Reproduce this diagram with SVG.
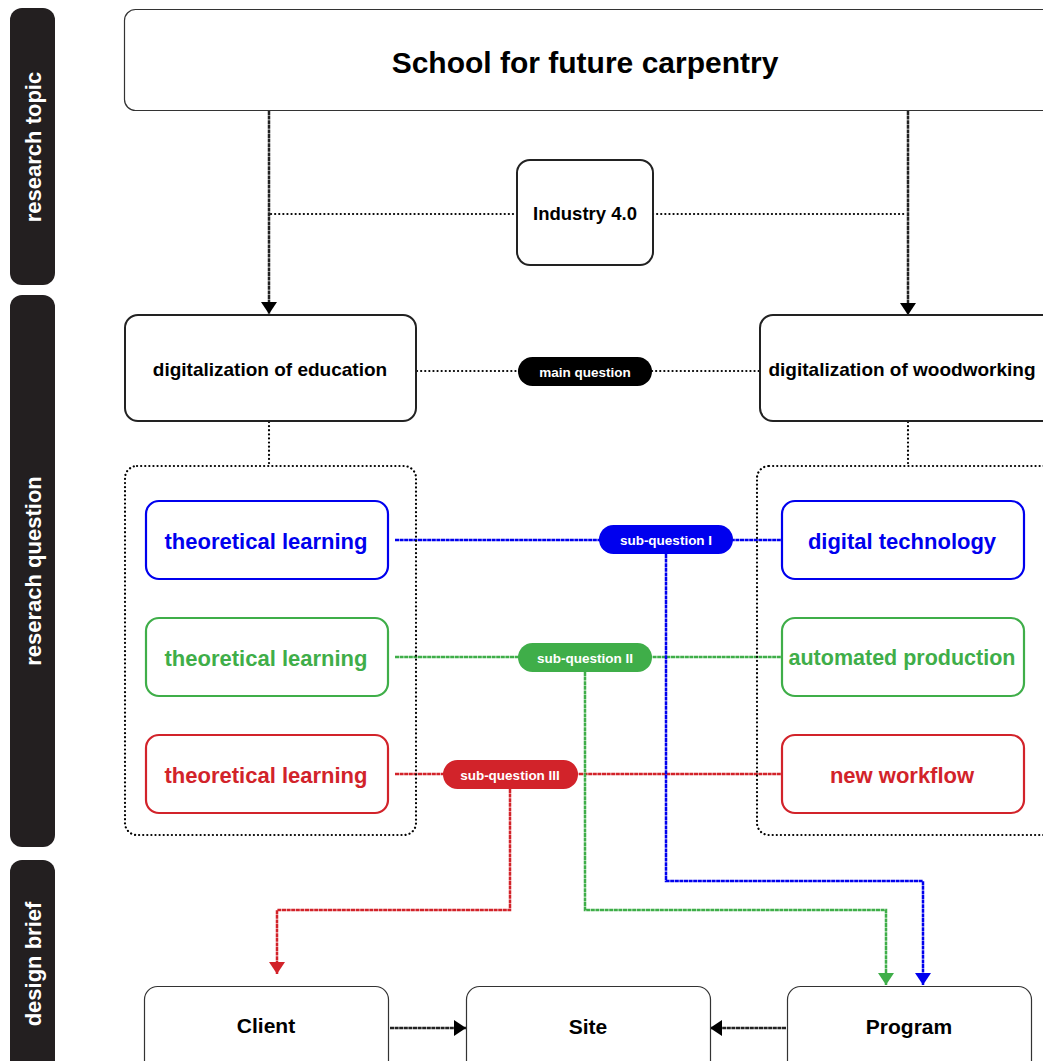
<svg xmlns="http://www.w3.org/2000/svg" width="1043" height="1061" viewBox="0 0 1043 1061">
<style>
text{font-family:"Liberation Sans",Arial,sans-serif;font-weight:bold;text-anchor:middle;dominant-baseline:central}
.side{fill:#231f20}
.sidet{fill:#fff;font-size:22px}
.box{fill:#fff;stroke:#222;stroke-width:2}
.thin{fill:#fff;stroke:#333;stroke-width:1.2}
.grp{fill:none;stroke:#000;stroke-width:2.2;stroke-dasharray:0.1 4;stroke-linecap:round}
.dot{fill:none;stroke:#000;stroke-width:2.2;stroke-dasharray:0.1 4;stroke-linecap:round}
.dense{fill:none;stroke-width:2.5;stroke-dasharray:4 0.6}
.b{stroke:#0000ee}.g{stroke:#3fae49}.r{stroke:#d2232a}.k{stroke:#222}
.cb{fill:#fff;stroke:#0000ee;stroke-width:2.2}
.cg{fill:#fff;stroke:#3fae49;stroke-width:2.2}
.cr{fill:#fff;stroke:#d2232a;stroke-width:2.2}
.pill{font-size:13.5px;fill:#fff}
</style>
<defs>
<marker id="ak" viewBox="0 0 12 16" refX="12" refY="8" markerWidth="12" markerHeight="16" markerUnits="userSpaceOnUse" orient="auto"><path d="M0,0L12,8L0,16z" fill="#000"/></marker>
<marker id="ab" viewBox="0 0 12 16" refX="12" refY="8" markerWidth="12" markerHeight="16" markerUnits="userSpaceOnUse" orient="auto"><path d="M0,0L12,8L0,16z" fill="#0000ee"/></marker>
<marker id="ag" viewBox="0 0 12 16" refX="12" refY="8" markerWidth="12" markerHeight="16" markerUnits="userSpaceOnUse" orient="auto"><path d="M0,0L12,8L0,16z" fill="#3fae49"/></marker>
<marker id="ar" viewBox="0 0 12 16" refX="12" refY="8" markerWidth="12" markerHeight="16" markerUnits="userSpaceOnUse" orient="auto"><path d="M0,0L12,8L0,16z" fill="#d2232a"/></marker>
</defs>
<rect width="1043" height="1061" fill="#fff"/>

<g id="side-topic"><rect class="side" x="10" y="8" width="45" height="277" rx="12"/><text class="sidet" transform="translate(33,147) rotate(-90)">research topic</text></g>
<g id="side-question"><rect class="side" x="10" y="295" width="45" height="552" rx="12"/><text class="sidet" transform="translate(33,571) rotate(-90)">reserach question</text></g>
<g id="side-brief"><rect class="side" x="10" y="860" width="45" height="215" rx="12"/><text class="sidet" transform="translate(33,964) rotate(-90)">design brief</text></g>

<g id="connectors">
<line class="dense k" x1="269" y1="111" x2="269" y2="314" marker-end="url(#ak)"/>
<line class="dense k" x1="908" y1="111" x2="908" y2="315" marker-end="url(#ak)"/>
<line class="dot" x1="271" y1="214" x2="517" y2="214"/>
<line class="dot" x1="653" y1="214" x2="906" y2="214"/>
<line class="dot" x1="417" y1="371" x2="518" y2="371"/>
<line class="dot" x1="652" y1="371" x2="760" y2="371"/>
<line class="dot" x1="269" y1="422" x2="269" y2="466"/>
<line class="dot" x1="908" y1="422" x2="908" y2="466"/>
<line class="dense b" x1="395" y1="540" x2="782" y2="540"/>
<line class="dense g" x1="395" y1="657" x2="782" y2="657"/>
<line class="dense r" x1="395" y1="774" x2="782" y2="774"/>
<polyline class="dense b" points="666,554 666,881 923,881 923,985" marker-end="url(#ab)"/>
<polyline class="dense g" points="585,672 585,910 886,910 886,985" marker-end="url(#ag)"/>
<polyline class="dense r" points="510,789 510,910 277,910 277,974" marker-end="url(#ar)"/>
<line class="dense k" x1="390" y1="1028" x2="466" y2="1028" marker-end="url(#ak)"/>
<line class="dense k" x1="786" y1="1028" x2="710" y2="1028" marker-end="url(#ak)"/>
</g>

<g id="top"><rect class="thin" x="124.5" y="9.5" width="930" height="101" rx="11"/><text x="585" y="62" style="font-size:30px">School for future carpentry</text></g>
<g id="industry"><rect class="box" x="517" y="160" width="136" height="105" rx="13"/><text x="585" y="213" style="font-size:18.5px">Industry 4.0</text></g>
<g id="edu"><rect class="box" x="125" y="315" width="291" height="106" rx="13"/><text x="270" y="369" style="font-size:19px">digitalization of education</text></g>
<g id="wood"><rect class="box" x="760" y="315" width="300" height="106" rx="13"/><text x="902" y="369" style="font-size:19px">digitalization of woodworking</text></g>
<g id="mainq"><rect x="518" y="357" width="134" height="29" rx="14.5" fill="#000"/><text class="pill" x="585" y="372">main question</text></g>

<g id="grp-left"><rect class="grp" x="125" y="466" width="291" height="369" rx="12"/></g>
<g id="grp-right"><rect class="grp" x="757" y="466" width="300" height="369" rx="12"/></g>

<g id="tl-blue"><rect class="cb" x="146" y="501" width="242" height="78" rx="13"/><text x="266" y="541" style="font-size:22px;fill:#0000ee">theoretical learning</text></g>
<g id="tl-green"><rect class="cg" x="146" y="618" width="242" height="78" rx="13"/><text x="266" y="658" style="font-size:22px;fill:#3fae49">theoretical learning</text></g>
<g id="tl-red"><rect class="cr" x="146" y="735" width="242" height="78" rx="13"/><text x="266" y="775" style="font-size:22px;fill:#d2232a">theoretical learning</text></g>
<g id="dt"><rect class="cb" x="782" y="501" width="242" height="78" rx="13"/><text x="902" y="541" style="font-size:22px;fill:#0000ee">digital technology</text></g>
<g id="ap"><rect class="cg" x="782" y="618" width="242" height="78" rx="13"/><text x="902" y="658" style="font-size:21.5px;fill:#3fae49">automated production</text></g>
<g id="nw"><rect class="cr" x="782" y="735" width="242" height="78" rx="13"/><text x="902" y="775" style="font-size:22px;fill:#d2232a">new workflow</text></g>

<g id="sq1"><rect x="599" y="525" width="134" height="29" rx="14.5" fill="#0000ee"/><text class="pill" x="666" y="540">sub-question I</text></g>
<g id="sq2"><rect x="518" y="643" width="134" height="29" rx="14.5" fill="#3fae49"/><text class="pill" x="585" y="658">sub-question II</text></g>
<g id="sq3"><rect x="443" y="760" width="135" height="29" rx="14.5" fill="#d2232a"/><text class="pill" x="510" y="775">sub-question III</text></g>

<g id="client"><rect class="thin" x="144.5" y="986.5" width="244" height="90" rx="13"/><text x="266" y="1025" style="font-size:21px">Client</text></g>
<g id="site"><rect class="thin" x="466.5" y="986.5" width="244" height="90" rx="13"/><text x="588" y="1026" style="font-size:21px">Site</text></g>
<g id="program"><rect class="thin" x="787.5" y="986.5" width="244" height="90" rx="13"/><text x="909" y="1026" style="font-size:21px">Program</text></g>
</svg>
